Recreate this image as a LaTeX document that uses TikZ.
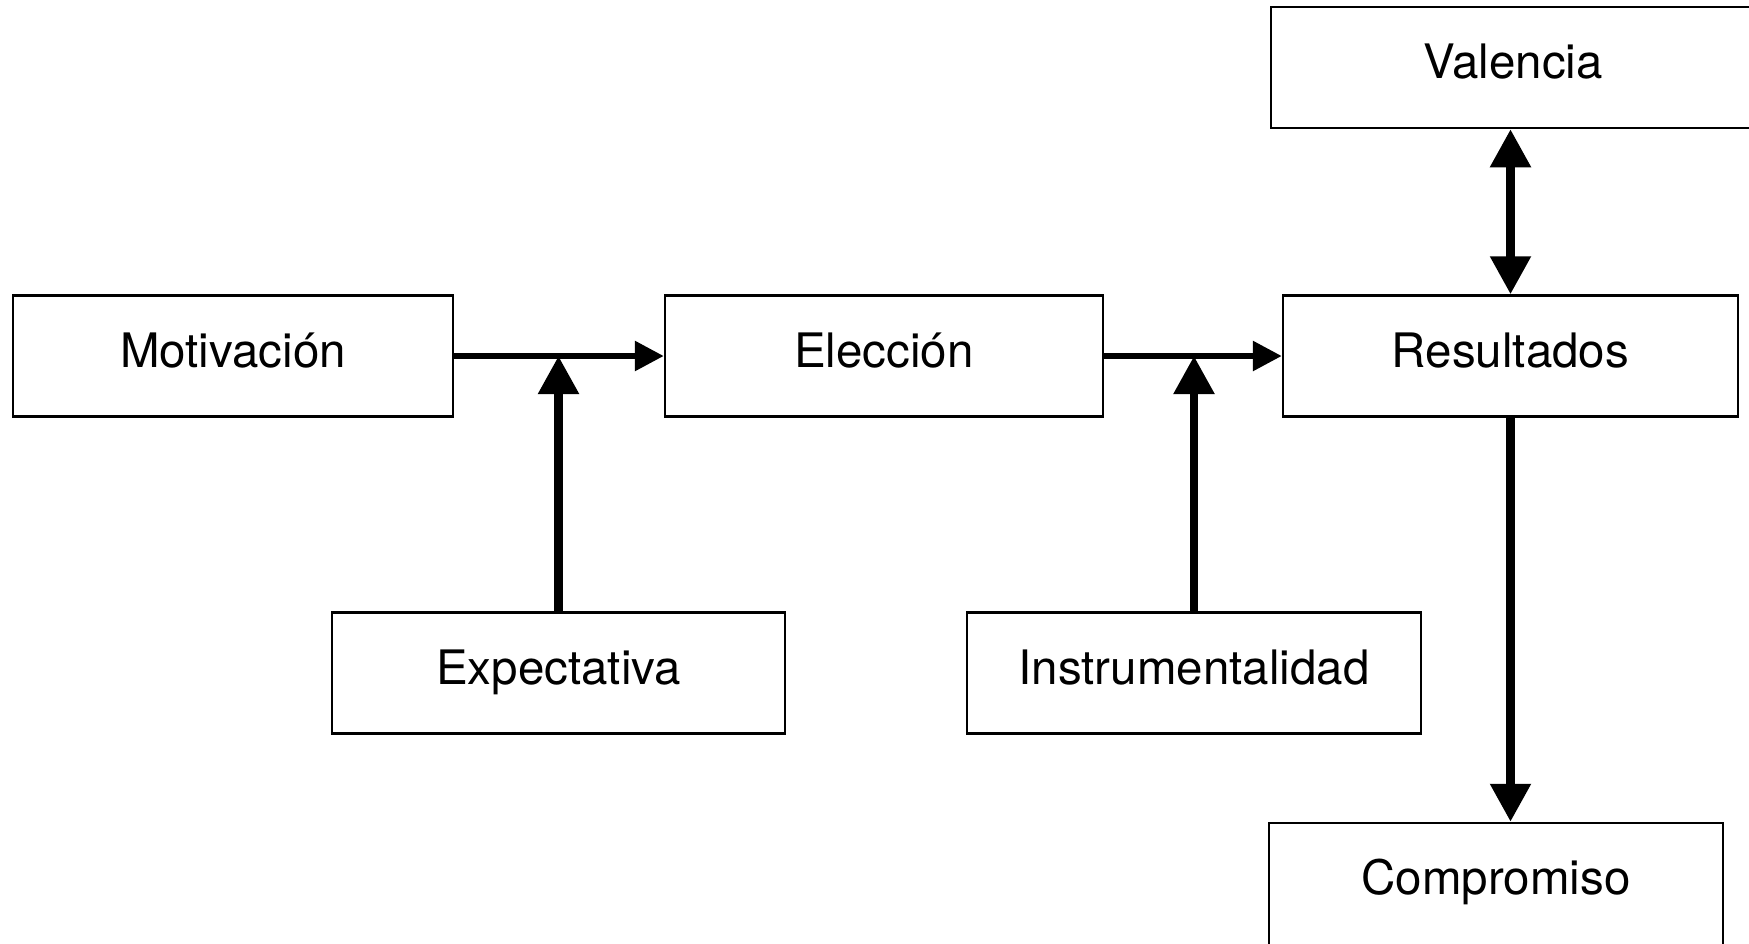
\documentclass[tikz,border=0pt]{standalone}
\usepackage{fontspec}
\setmainfont{TeX Gyre Heros}
\usetikzlibrary{arrows.meta}
\begin{document}
\begin{tikzpicture}[x=1pt,y=-1pt,
  box/.style={draw=black, line width=2.5pt, rectangle, inner sep=0pt,
    minimum height=121pt, text height=33pt, text depth=11pt,
    font=\fontsize{47.5}{57}\selectfont},
  harrow/.style={line width=6pt, -{Triangle[length=29pt,width=29pt]}},
  varrow/.style={line width=8.5pt, -{Triangle[length=38pt,width=39pt]}},
  vbiarrow/.style={line width=8.5pt, {Triangle[length=38pt,width=39pt]}-{Triangle[length=38pt,width=39pt]}}
]
\useasboundingbox (0,0) rectangle (1749,943);
\node[box, minimum width=440pt] (mot) at (233,356) {Motivación};
\node[box, minimum width=438pt] (ele) at (884,356) {Elección};
\node[box, minimum width=455pt] (res) at (1510.5,356) {Resultados};
\node[box, minimum width=484pt] (val) at (1513,67.5) {Valencia};
\node[box, minimum width=453pt] (exp) at (558.5,673) {Expectativa};
\node[box, minimum width=454pt] (ins) at (1194,673) {Instrumentalidad};
\node[box, minimum width=454pt, minimum height=128pt, text depth=18pt] (com) at (1496,887) {Compromiso};
\coordinate (j1) at (exp.north |- mot.east);
\coordinate (j2) at (ins.north |- ele.east);
\coordinate (vb) at (res.north |- val.south);
\coordinate (ct) at (res.south |- com.north);
\draw[harrow] (mot.east) -- (ele.west);
\draw[harrow] (ele.east) -- (res.west);
\draw[varrow] (exp.north) -- (j1);
\draw[varrow] (ins.north) -- (j2);
\draw[vbiarrow] (vb) -- (res.north);
\draw[varrow] (res.south) -- (ct);
\end{tikzpicture}
\end{document}
